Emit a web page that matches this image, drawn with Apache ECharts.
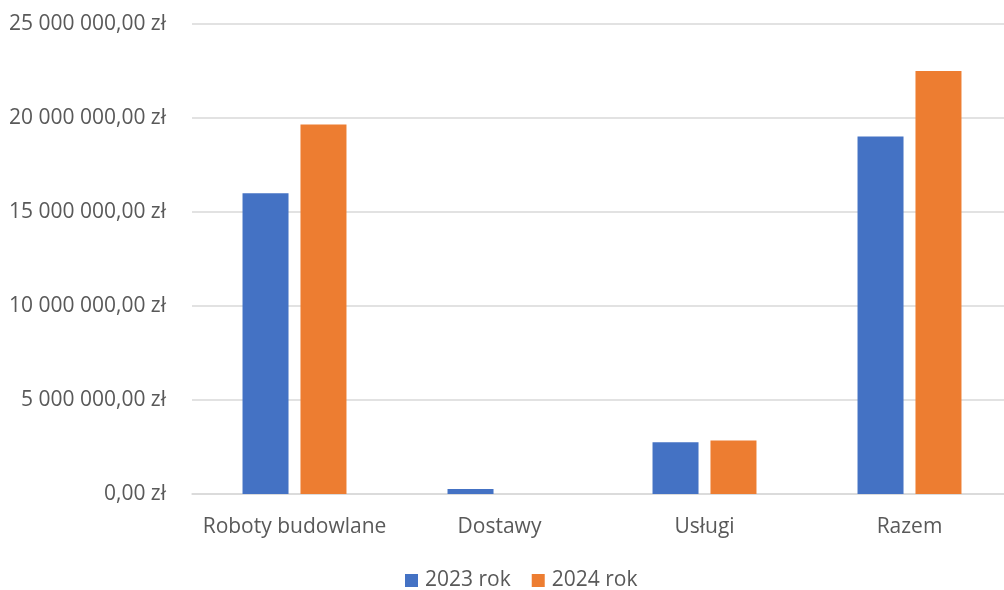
<!DOCTYPE html>
<html><head><meta charset="utf-8">
<script src="https://cdn.jsdelivr.net/npm/echarts@6/dist/echarts.min.js"></script>
<style>html,body{margin:0;padding:0;background:#fff;overflow:hidden}#c{width:1020px;height:590px}</style>
</head><body><div id="c"></div>
<script>
const categories = ['Roboty budowlane', 'Dostawy', 'Usługi', 'Razem'];
const seriesNames = ['2023 rok', '2024 rok'];
const values2023 = [16000000, 270000, 2750000, 19020000];
const values2024 = [19650000, 0, 2850000, 22500000];
const yTicks = { min: 0, max: 25000000, interval: 5000000 };
const colors = ['#4472C4', '#ED7D31'];

function fmt(v) {
  const s = Math.round(v).toString().replace(/\B(?=(\d{3})+(?!\d))/g, ' ');
  return s + ',00 zł';
}
const FONT = 'Open Sans';
const chart = echarts.init(document.getElementById('c'), null, { renderer: 'canvas' });
chart.setOption({
  animation: false,
  color: colors,
  textStyle: { fontFamily: FONT },
  grid: { left: 192, top: 24, right: 8, bottom: 96, containLabel: false },
  legend: {
    data: seriesNames, top: 565, left: 400, itemWidth: 13, itemHeight: 13, itemGap: 21,
    icon: 'rect',
    textStyle: { color: '#595959', fontSize: 21, fontFamily: FONT, padding: [0, 0, 0, 2] }
  },
  xAxis: {
    type: 'category', data: categories,
    axisLine: { show: true, lineStyle: { color: '#d9d9d9', width: 1.5 } },
    axisTick: { show: false },
    axisLabel: { color: '#595959', fontSize: 21, fontFamily: FONT, margin: 23, interval: 0 }
  },
  yAxis: {
    type: 'value', min: yTicks.min, max: yTicks.max, interval: yTicks.interval,
    axisLine: { show: false }, axisTick: { show: false },
    splitLine: { lineStyle: { color: '#d9d9d9', width: 1.5 } },
    axisLabel: { color: '#595959', fontSize: 21, fontFamily: FONT, margin: 26, formatter: fmt }
  },
  series: [
    { name: seriesNames[0], type: 'bar', data: values2023, barWidth: 46, barGap: '26%' },
    { name: seriesNames[1], type: 'bar', data: values2024, barWidth: 46, barGap: '26%' }
  ]
});
</script></body></html>
